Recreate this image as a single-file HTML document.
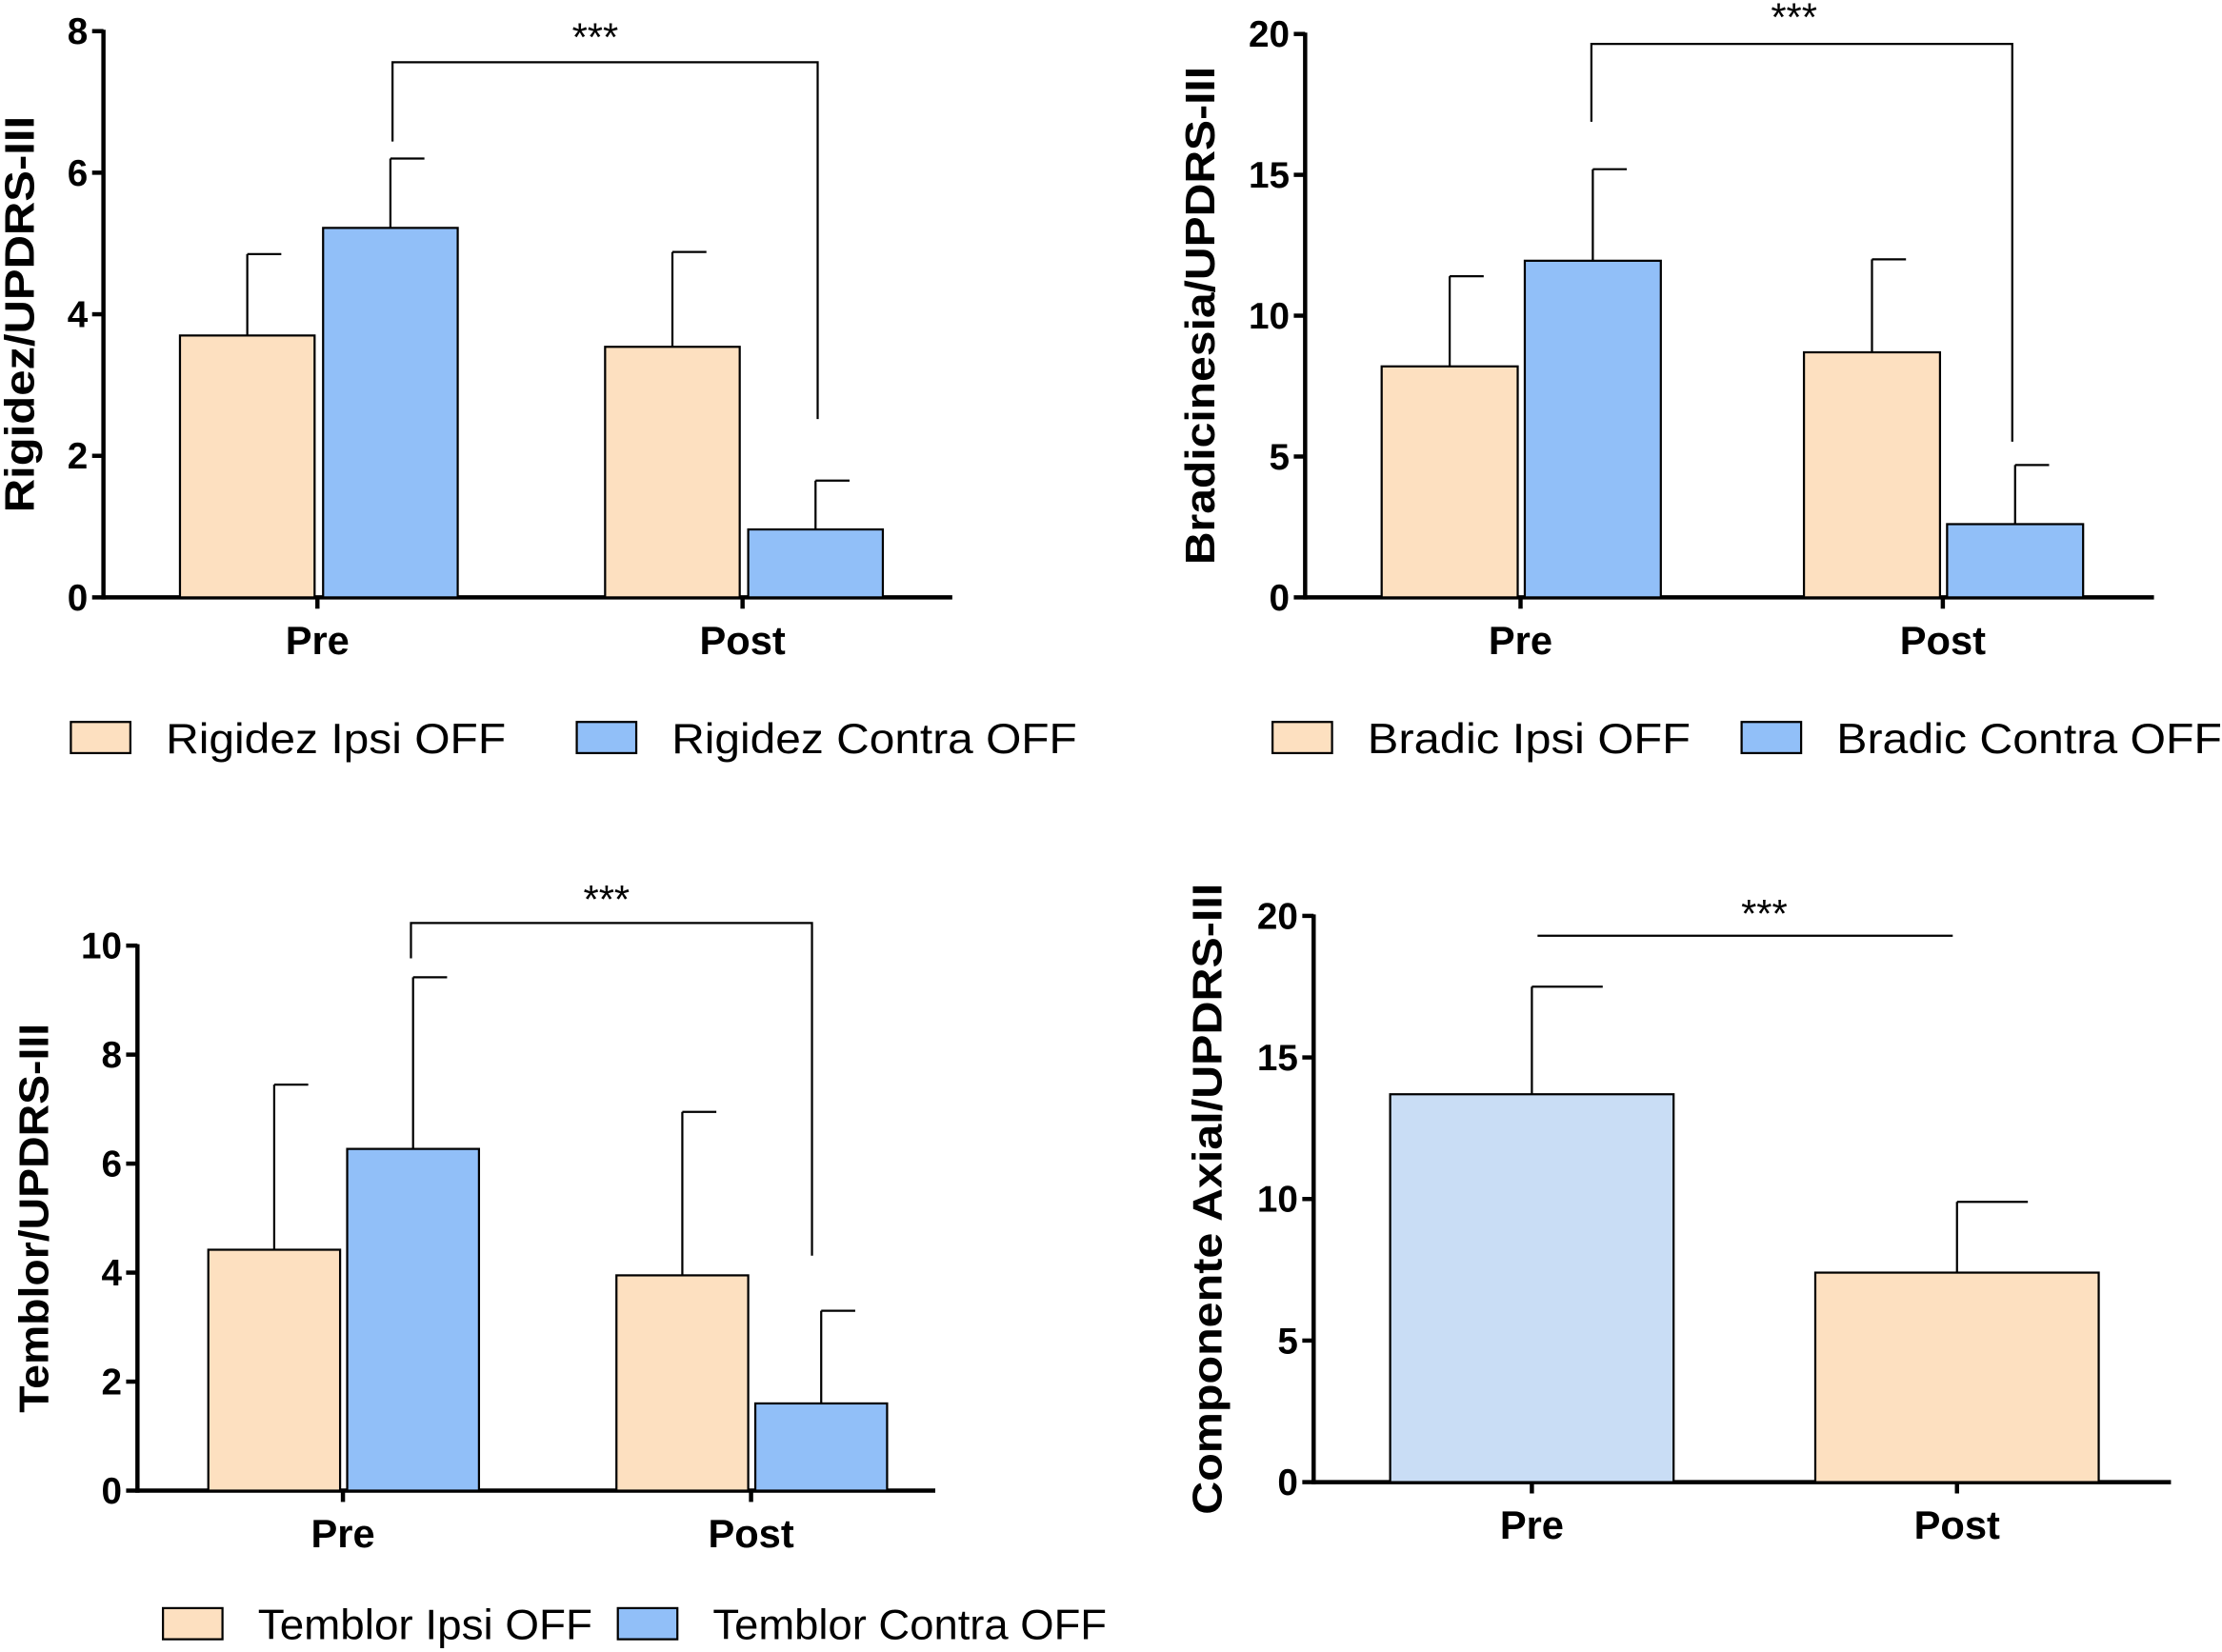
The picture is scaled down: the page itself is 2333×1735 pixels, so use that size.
<!DOCTYPE html>
<html><head><meta charset="utf-8"><style>
html,body{margin:0;padding:0;background:#fff;}
svg{display:block;font-family:"Liberation Sans",Arial,sans-serif;}
</style></head><body>
<svg id="chart" width="2333" height="1735" viewBox="0 0 1568 1167" preserveAspectRatio="none" xmlns="http://www.w3.org/2000/svg"></svg>
<script>
// ---- data ----
const groups = ["Pre", "Post"];
const rigIpsi = [3.7, 3.54];
const rigIpsiErr = [4.85, 4.88];
const rigContra = [5.22, 0.96];
const rigContraErr = [6.2, 1.65];
const rigTicks = [0, 2, 4, 6, 8];

const braIpsi = [8.2, 8.7];
const braIpsiErr = [11.4, 12.0];
const braContra = [11.95, 2.6];
const braContraErr = [15.2, 4.7];
const braTicks = [0, 5, 10, 15, 20];

const temIpsi = [4.42, 3.95];
const temIpsiErr = [7.45, 6.95];
const temContra = [6.27, 1.6];
const temContraErr = [9.42, 3.3];
const temTicks = [0, 2, 4, 6, 8, 10];

const axVals = [13.7, 7.4];
const axErr = [17.5, 9.9];
const axTicks = [0, 5, 10, 15, 20];

const PEACH = "#fde0c0", BLUE = "#91bff8", LIGHTBLUE = "#c9ddf5";
const svg = document.getElementById("chart");
const NS = "http://www.w3.org/2000/svg";
function mk(tag, attrs, parent) {
  const e = document.createElementNS(NS, tag);
  for (const k in attrs) e.setAttribute(k, attrs[k]);
  (parent || svg).appendChild(e);
  return e;
}

function panel(p) {
  const g = mk("g", {});
  
  
  const maxT = p.ticks[p.ticks.length - 1];
  const y = v => p.y0 - (p.y0 - p.yTop) * v / maxT;
  const ya = mk("line", {x1: p.ax, y1: p.yTop - 1, x2: p.ax, y2: p.y0 + 1.5, stroke: "#000", "stroke-width": 3}, g);
  
  
  p.ticks.forEach(t => {
    mk("line", {x1: p.ax - 8, y1: y(t), x2: p.ax, y2: y(t), stroke: "#000", "stroke-width": 3}, g);
    const tx = mk("text", {x: p.ax - 11, y: y(t) + 9, "text-anchor": "end", "font-size": 26, "font-weight": "bold"}, g);
    tx.textContent = t;
    
    
  });
  const xa = mk("line", {x1: p.ax, y1: p.y0, x2: p.xEnd, y2: p.y0, stroke: "#000", "stroke-width": 3}, g);
  
  
  p.series.forEach(s => {
    s.vals.forEach((v, i) => {
      const x = p.groupX[i] + s.off;
      const top = y(v);
      const fill = Array.isArray(s.color) ? s.color[i] : s.color;
      const r = mk("rect", {x: x, y: top, width: p.bw, height: p.y0 - top, fill: fill, stroke: "#000", "stroke-width": 1.5}, g);
      
      
      const cx = x + p.bw / 2, et = y(s.err[i]);
      const e1 = mk("line", {x1: cx, y1: top, x2: cx, y2: et, stroke: "#000", "stroke-width": 1.5}, g);
      
      
      mk("line", {x1: cx, y1: et, x2: cx + p.cap, y2: et, stroke: "#000", "stroke-width": 1.5}, g);
    });
  });
  groups.forEach((gname, i) => {
    mk("line", {x1: p.labX[i], y1: p.y0, x2: p.labX[i], y2: p.y0 + 8, stroke: "#000", "stroke-width": 3}, g);
    const t = mk("text", {x: p.labX[i], y: p.y0 + 40, "text-anchor": "middle", "font-size": 28, "font-weight": "bold"}, g);
    t.textContent = gname;
    
    
  });
  const yt = mk("text", {x: 0, y: 0, transform: `translate(${p.titleX},${(p.y0 + p.yTop) / 2}) rotate(-90)`, "text-anchor": "middle", "font-size": 29, "font-weight": "bold", textLength: p.titleLen, lengthAdjust: "spacingAndGlyphs"}, g);
  yt.textContent = p.title;
  
  
  const b = p.br;
  const pl = mk("polyline", {points: b.pts, fill: "none", stroke: "#000", "stroke-width": 1.5}, g);
  
  
  const st = mk("text", {x: b.sx, y: b.sy, "text-anchor": "middle", "font-size": 28}, g);
  st.textContent = "***";
  
  
  if (p.legend) p.legend.forEach(l => {
    const lg = mk("g", {}, g);
    
    
    mk("rect", {x: l.x, y: l.y, width: 42, height: 22, fill: l.color, stroke: "#000", "stroke-width": 1.5}, lg);
    const t = mk("text", {x: l.x + 67, y: l.y + 22, "font-size": 30, textLength: l.len, lengthAdjust: "spacingAndGlyphs"}, lg);
    t.textContent = l.text;
  });
}

panel({name: "rigidez-panel", ax: 73, y0: 422, yTop: 22, xEnd: 672, ticks: rigTicks, bw: 95,
  groupX: [127, 427], labX: [224, 524], cap: 24, title: "Rigidez/UPDRS-III", titleX: 24, titleLen: 280,
  series: [{key: "ipsi", vals: rigIpsi, err: rigIpsiErr, off: 0, color: PEACH},
           {key: "contra", vals: rigContra, err: rigContraErr, off: 101, color: BLUE}],
  br: {pts: "277,100 277,44 577,44 577,296", sx: 420, sy: 36},
  legend: [{x: 50, y: 510, color: PEACH, text: "Rigidez Ipsi OFF", len: 240}, {x: 407, y: 510, color: BLUE, text: "Rigidez Contra OFF", len: 286}]});

panel({name: "bradicinesia-panel", ax: 921, y0: 422, yTop: 24, xEnd: 1520, ticks: braTicks, bw: 96,
  groupX: [975, 1273], labX: [1073, 1371], cap: 24, title: "Bradicinesia/UPDRS-III", titleX: 857, titleLen: 352,
  series: [{key: "ipsi", vals: braIpsi, err: braIpsiErr, off: 0, color: PEACH},
           {key: "contra", vals: braContra, err: braContraErr, off: 101, color: BLUE}],
  br: {pts: "1123,86 1123,31 1420,31 1420,312", sx: 1266, sy: 22},
  legend: [{x: 898, y: 510, color: PEACH, text: "Bradic Ipsi OFF", len: 228}, {x: 1229, y: 510, color: BLUE, text: "Bradic Contra OFF", len: 272}]});

panel({name: "temblor-panel", ax: 97, y0: 1053, yTop: 668, xEnd: 660, ticks: temTicks, bw: 93,
  groupX: [147, 435], labX: [242, 530], cap: 24, title: "Temblor/UPDRS-III", titleX: 34, titleLen: 275,
  series: [{key: "ipsi", vals: temIpsi, err: temIpsiErr, off: 0, color: PEACH},
           {key: "contra", vals: temContra, err: temContraErr, off: 98, color: BLUE}],
  br: {pts: "290,677 290,652 573,652 573,887", sx: 428, sy: 645},
  legend: [{x: 115, y: 1136, color: PEACH, text: "Temblor Ipsi OFF", len: 236}, {x: 436, y: 1136, color: BLUE, text: "Temblor Contra OFF", len: 278}]});

panel({name: "axial-panel", ax: 927, y0: 1047, yTop: 647, xEnd: 1532, ticks: axTicks, bw: 200,
  groupX: [981, 1281], labX: [1081, 1381], cap: 50, title: "Componente Axial/UPDRS-III", titleX: 862, titleLen: 446,
  series: [{key: "axial", vals: axVals, err: axErr, off: 0, color: [LIGHTBLUE, PEACH]}],
  br: {pts: "1085,661 1378,661", sx: 1245, sy: 655}});
</script>
</body></html>
